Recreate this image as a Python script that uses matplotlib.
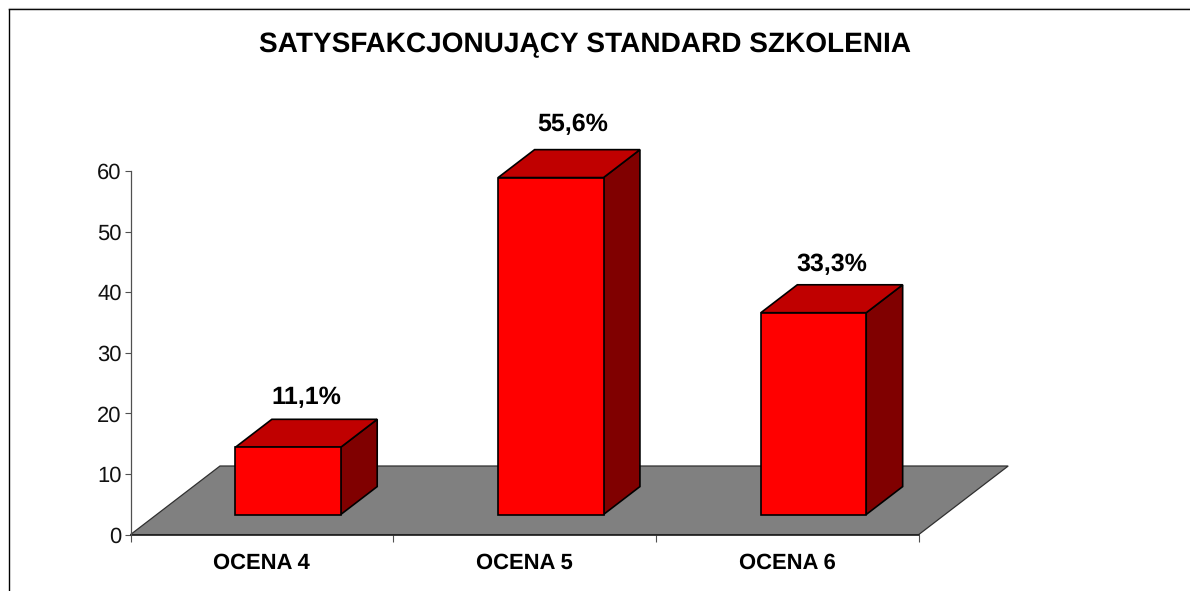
import matplotlib
matplotlib.use("Agg")
import matplotlib.pyplot as plt
from matplotlib.patches import Polygon
from matplotlib.lines import Line2D

plt.rcParams['font.family'] = ['Liberation Sans', 'DejaVu Sans']
plt.rcParams['text.hinting'] = 'no_hinting'
plt.rcParams['text.hinting_factor'] = 1

title = "SATYSFAKCJONUJĄCY STANDARD SZKOLENIA"
categories = ["OCENA 4", "OCENA 5", "OCENA 6"]
values = [11.1, 55.6, 33.3]
value_labels = ["11,1%", "55,6%", "33,3%"]
y_ticks = [0, 10, 20, 30, 40, 50, 60]

W, H = 1190, 591
fig = plt.figure(figsize=(W / 100, H / 100), dpi=100, facecolor="white")
L, R, B, T = 130.5, 918.7, 534.6, 171.0
ax = fig.add_axes([L / W, 1 - B / H, (R - L) / W, (B - T) / H])
ax.set_xlim(0, len(categories))
ax.set_ylim(0, 60)
ax.patch.set_visible(False)

# oblique projection: a point at depth d (0..1) is shifted right and up
DX = 89.5 / ((R - L) / len(categories))
DY = 68.6 / ((B - T) / 60)


def proj(x, v, d):
    return (x + d * DX, v + d * DY)


def face(points, color, lw=1.2, ec="black", z=3):
    ax.add_patch(Polygon(points, closed=True, facecolor=color, edgecolor=ec,
                         linewidth=lw, clip_on=False, joinstyle="miter", zorder=z))


# floor
n = len(categories)
face([proj(0, 0, 0), proj(n, 0, 0), proj(n, 0, 1), proj(0, 0, 1)],
     "#808080", lw=0.9, ec="#303030", z=1)

# bars
d0, d1 = 0.293, 0.70
bw = 0.401
label_rise = [36.0, 37.9, 34.5]   # points above the bar's front top edge
for i, v in enumerate(values):
    xa = i + 0.5 - bw / 2
    xb = i + 0.5 + bw / 2
    face([proj(xb, 0, d0), proj(xb, 0, d1), proj(xb, v, d1), proj(xb, v, d0)], "#800000")
    face([proj(xa, v, d0), proj(xb, v, d0), proj(xb, v, d1), proj(xa, v, d1)], "#C00000")
    face([proj(xa, 0, d0), proj(xb, 0, d0), proj(xb, v, d0), proj(xa, v, d0)], "#FF0000")
    ax.annotate(value_labels[i], xy=proj(i + 0.5, v, d0),
                xytext=(13.0 + (3 if i == 1 else 0), label_rise[i]),
                textcoords="offset points", ha="center", va="center",
                fontsize=18, fontweight="bold", color="black", annotation_clip=False, zorder=5)

# axes
for s in ("top", "right"):
    ax.spines[s].set_visible(False)
ax.spines["left"].set_color("#505050")
ax.spines["left"].set_linewidth(0.9)
ax.spines["bottom"].set_color("#202020")
ax.spines["bottom"].set_linewidth(1.2)
ax.spines["bottom"].set_zorder(2)
ax.set_yticks(y_ticks)
ax.set_yticklabels([str(t) for t in y_ticks], fontsize=16, color="#111111")
ax.set_xticks(range(n + 1))
ax.set_xticklabels([""] * (n + 1))
ax.set_xticks([i + 0.5 for i in range(n)], minor=True)
ax.set_xticklabels(categories, minor=True, fontsize=16, fontweight="bold", color="black")
ax.tick_params(axis="both", which="major", length=4, width=0.8, color="#505050", pad=2.5)
ax.tick_params(axis="x", which="major", length=5)
ax.tick_params(axis="x", which="minor", length=0, pad=13)

# title and chart-area frame (top and left edges are visible)
fig.text(585.5 / W, 1 - 45 / H, title, ha="center", va="center",
         fontsize=20.2, fontweight="bold", color="black")
fig.add_artist(Line2D([9 / W, 9 / W], [0, 1 - 9 / H], color="black", lw=1.0))
fig.add_artist(Line2D([8.5 / W, 1], [1 - 9 / H, 1 - 9 / H], color="black", lw=1.0))
fig.add_artist(Line2D([8.5 / W, 1], [1 - 8 / H, 1 - 8 / H], color="#b0b0b0", lw=0.8))

fig.savefig("out.png", dpi=100, facecolor="white")
